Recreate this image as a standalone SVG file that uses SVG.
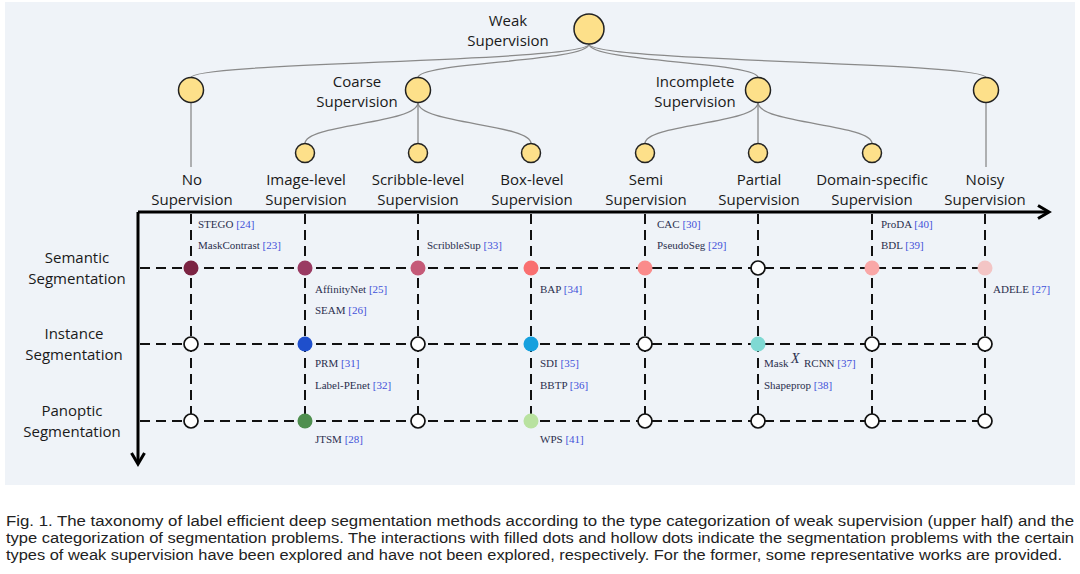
<svg xmlns="http://www.w3.org/2000/svg" width="1080" height="574" viewBox="0 0 1080 574">
<style>
.lbl{font-family:"Open Sans","Liberation Sans",sans-serif;font-size:15px;fill:#1a1a1a;text-anchor:middle}
.m{font-family:"Liberation Serif","Times New Roman",serif;font-size:11px;fill:#2b2f4e}
.ref{fill:#3f51d9}
.tn{fill:#fde08a;stroke:#222;stroke-width:1.5}
.tl{fill:none;stroke:#8a8a8a;stroke-width:1.3}
.dash{fill:none;stroke:#111;stroke-width:2;stroke-dasharray:10 6}
.ax{fill:none;stroke:#000;stroke-width:3}
.ho{fill:#fff;stroke:#111;stroke-width:1.7}
.cap{font-family:"Liberation Sans",Arial,sans-serif;font-size:14px;fill:#222}
</style>
<rect x="0" y="0" width="1080" height="574" fill="#fff"/>
<rect x="5" y="2" width="1070" height="483" fill="#eff3f8"/>

<g id="tree-connectors">
<path class="tl" d="M589,44 C589,62 191,62 191,77.5"/>
<path class="tl" d="M589,44 C589,62 418,62 418,77.5"/>
<path class="tl" d="M589,44 C589,62 758,62 758,77.5"/>
<path class="tl" d="M589,44 C589,62 986,62 986,77.5"/>
<path class="tl" d="M191,102.5 V167"/>
<path class="tl" d="M986,102.5 V167"/>
<path class="tl" d="M418,102.5 C418,124 305,124 305,143.5"/>
<path class="tl" d="M418,102.5 V143.5"/>
<path class="tl" d="M418,102.5 C418,124 531,124 531,143.5"/>
<path class="tl" d="M758,102.5 C758,124 645,124 645,143.5"/>
<path class="tl" d="M758,102.5 V143.5"/>
<path class="tl" d="M758,102.5 C758,124 872,124 872,143.5"/>
</g>

<g id="grid-connectors">
<path class="dash" d="M140,268 H985"/>
<path class="dash" d="M140,344 H985"/>
<path class="dash" d="M140,421 H985"/>
<path class="dash" d="M191,214 V421"/>
<path class="dash" d="M305,214 V421"/>
<path class="dash" d="M418,214 V421"/>
<path class="dash" d="M531,214 V421"/>
<path class="dash" d="M645,214 V421"/>
<path class="dash" d="M758,214 V421"/>
<path class="dash" d="M872,214 V421"/>
<path class="dash" d="M985,214 V421"/>
</g>

<g id="axes">
<path class="ax" d="M138,212 H1048"/>
<path class="ax" d="M1038,205.5 L1049,212 L1038,218.5"/>
<path class="ax" d="M138,212 V463"/>
<path class="ax" d="M131.5,453 L138,464 L144.5,453"/>
</g>

<g id="node-weak"><circle class="tn" cx="589" cy="29" r="15"/><text class="lbl" x="508" y="26">Weak</text><text class="lbl" x="508" y="46">Supervision</text></g>
<g id="node-no"><circle class="tn" cx="191" cy="90" r="12.5"/><text class="lbl" x="192" y="185">No</text><text class="lbl" x="192" y="205">Supervision</text></g>
<g id="node-coarse"><circle class="tn" cx="418" cy="90" r="12.5"/><text class="lbl" x="357" y="87">Coarse</text><text class="lbl" x="357" y="107">Supervision</text></g>
<g id="node-incomplete"><circle class="tn" cx="758" cy="90" r="12.5"/><text class="lbl" x="695" y="87">Incomplete</text><text class="lbl" x="695" y="107">Supervision</text></g>
<g id="node-noisy"><circle class="tn" cx="986" cy="90" r="12.5"/><text class="lbl" x="985" y="185">Noisy</text><text class="lbl" x="985" y="205">Supervision</text></g>
<g id="node-image"><circle class="tn" cx="305" cy="153" r="9.5"/><text class="lbl" x="306" y="185">Image-level</text><text class="lbl" x="306" y="205">Supervision</text></g>
<g id="node-scribble"><circle class="tn" cx="418" cy="153" r="9.5"/><text class="lbl" x="418" y="185">Scribble-level</text><text class="lbl" x="418" y="205">Supervision</text></g>
<g id="node-box"><circle class="tn" cx="531" cy="153" r="9.5"/><text class="lbl" x="532" y="185">Box-level</text><text class="lbl" x="532" y="205">Supervision</text></g>
<g id="node-semi"><circle class="tn" cx="645" cy="153" r="9.5"/><text class="lbl" x="646" y="185">Semi</text><text class="lbl" x="646" y="205">Supervision</text></g>
<g id="node-partial"><circle class="tn" cx="758" cy="153" r="9.5"/><text class="lbl" x="759" y="185">Partial</text><text class="lbl" x="759" y="205">Supervision</text></g>
<g id="node-domain"><circle class="tn" cx="872" cy="153" r="9.5"/><text class="lbl" x="872" y="185">Domain-specific</text><text class="lbl" x="872" y="205">Supervision</text></g>

<g id="row-labels">
<text class="lbl" x="77" y="263">Semantic</text><text class="lbl" x="77" y="284">Segmentation</text>
<text class="lbl" x="74" y="339">Instance</text><text class="lbl" x="74" y="360">Segmentation</text>
<text class="lbl" x="72" y="416">Panoptic</text><text class="lbl" x="72" y="437">Segmentation</text>
</g>

<g id="dots-semantic">
<circle cx="191" cy="268" r="7.5" fill="#7b2342"/>
<circle cx="305" cy="268" r="7.5" fill="#9a3b63"/>
<circle cx="418" cy="268" r="7.5" fill="#c55a78"/>
<circle cx="531" cy="268" r="7.5" fill="#f96f70"/>
<circle cx="645" cy="268" r="7.5" fill="#fa8b8b"/>
<circle class="ho" cx="758" cy="268" r="7"/>
<circle cx="872" cy="268" r="7.5" fill="#f9a7a7"/>
<circle cx="985" cy="268" r="7.5" fill="#f3c5c5"/>
</g>
<g id="dots-instance">
<circle class="ho" cx="191" cy="344" r="7"/>
<circle cx="305" cy="344" r="7.5" fill="#1f4fcc"/>
<circle class="ho" cx="418" cy="344" r="7"/>
<circle cx="531" cy="344" r="7.5" fill="#16a0de"/>
<circle class="ho" cx="645" cy="344" r="7"/>
<circle cx="758" cy="344" r="7.5" fill="#7fd9d3"/>
<circle class="ho" cx="872" cy="344" r="7"/>
<circle class="ho" cx="985" cy="344" r="7"/>
</g>
<g id="dots-panoptic">
<circle class="ho" cx="191" cy="421" r="7"/>
<circle cx="305" cy="421" r="7.5" fill="#4f8f4f"/>
<circle class="ho" cx="418" cy="421" r="7"/>
<circle cx="531" cy="421" r="7.5" fill="#b9e2a0"/>
<circle class="ho" cx="645" cy="421" r="7"/>
<circle class="ho" cx="758" cy="421" r="7"/>
<circle class="ho" cx="872" cy="421" r="7"/>
<circle class="ho" cx="985" cy="421" r="7"/>
</g>

<g id="method-labels">
<text class="m" x="198" y="228">STEGO <tspan class="ref">[24]</tspan></text>
<text class="m" x="198" y="249">MaskContrast <tspan class="ref">[23]</tspan></text>
<text class="m" x="427" y="249">ScribbleSup <tspan class="ref">[33]</tspan></text>
<text class="m" x="657" y="228">CAC <tspan class="ref">[30]</tspan></text>
<text class="m" x="657" y="249">PseudoSeg <tspan class="ref">[29]</tspan></text>
<text class="m" x="881" y="228">ProDA <tspan class="ref">[40]</tspan></text>
<text class="m" x="881" y="249">BDL <tspan class="ref">[39]</tspan></text>
<text class="m" x="315" y="293">AffinityNet <tspan class="ref">[25]</tspan></text>
<text class="m" x="315" y="314">SEAM <tspan class="ref">[26]</tspan></text>
<text class="m" x="540" y="293">BAP <tspan class="ref">[34]</tspan></text>
<text class="m" x="993" y="293">ADELE <tspan class="ref">[27]</tspan></text>
<text class="m" x="315" y="367">PRM <tspan class="ref">[31]</tspan></text>
<text class="m" x="315" y="389">Label-PEnet <tspan class="ref">[32]</tspan></text>
<text class="m" x="540" y="367">SDI <tspan class="ref">[35]</tspan></text>
<text class="m" x="540" y="389">BBTP <tspan class="ref">[36]</tspan></text>
<text class="m" x="764" y="367">Mask</text>
<text class="m" x="791" y="363" style="font-style:italic;font-size:14px">X</text>
<text class="m" x="804" y="367">RCNN <tspan class="ref">[37]</tspan></text>
<text class="m" x="764" y="389">Shapeprop <tspan class="ref">[38]</tspan></text>
<text class="m" x="315" y="443">JTSM <tspan class="ref">[28]</tspan></text>
<text class="m" x="540" y="443">WPS <tspan class="ref">[41]</tspan></text>
</g>

<g id="caption">
<text class="cap" x="6" y="526" textLength="1068" lengthAdjust="spacingAndGlyphs">Fig. 1. The taxonomy of label efficient deep segmentation methods according to the type categorization of weak supervision (upper half) and the</text>
<text class="cap" x="6" y="543" textLength="1068" lengthAdjust="spacingAndGlyphs">type categorization of segmentation problems. The interactions with filled dots and hollow dots indicate the segmentation problems with the certain</text>
<text class="cap" x="6" y="560" textLength="1056" lengthAdjust="spacingAndGlyphs">types of weak supervision have been explored and have not been explored, respectively. For the former, some representative works are provided.</text>
</g>
</svg>
